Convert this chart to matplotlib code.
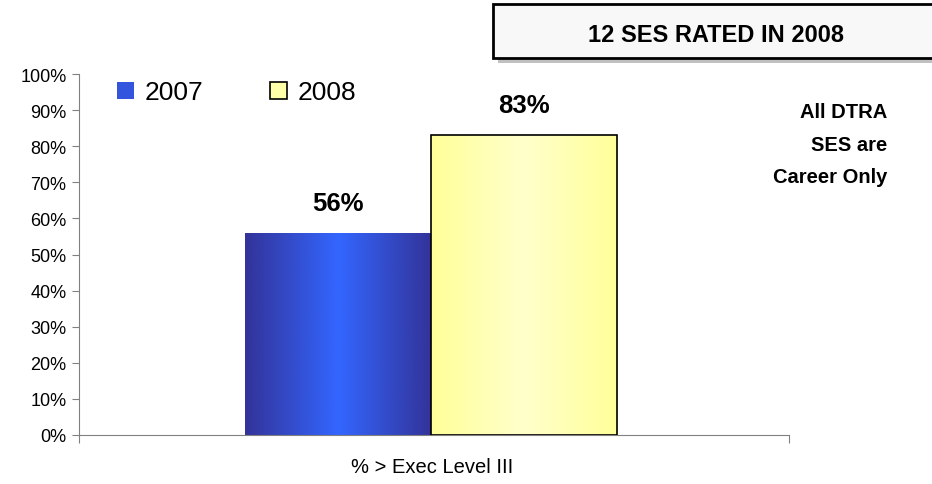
import matplotlib
matplotlib.use("Agg")
import matplotlib.pyplot as plt
import numpy as np
from matplotlib.colors import LinearSegmentedColormap
from matplotlib.patches import Rectangle

plt.rcParams['font.family'] = ['Liberation Sans', 'DejaVu Sans']

categories = ["% > Exec Level III"]
years = ["2007", "2008"]
values = [56, 83]
value_labels = ["56%", "83%"]
yticks = [0, 10, 20, 30, 40, 50, 60, 70, 80, 90, 100]
title_text = "12 SES RATED IN 2008"
note_lines = ["All DTRA", "SES are", "Career Only"]

W, H = 932, 485
fig = plt.figure(figsize=(W/100, H/100), dpi=100)
ax = fig.add_axes([79/W, 1-436/H, (789-79)/W, (436-75)/H])

width = 0.262
offsets = [-width/2, width/2]
cmaps = [
    LinearSegmentedColormap.from_list("b", ["#333399", "#3366FF", "#333399"]),
    LinearSegmentedColormap.from_list("y", ["#FFFF99", "#FFFFCC", "#FFFF99"]),
]
edgecolors = ["none", "black"]
grad = np.linspace(0, 1, 256).reshape(1, -1)

for i, (yr, v) in enumerate(zip(years, values)):
    x = 0 + offsets[i]
    bars = ax.bar(x, v, width=width, color="none", edgecolor=edgecolors[i],
                  linewidth=1.2, zorder=3)
    b = bars[0]
    im = ax.imshow(grad, cmap=cmaps[i], aspect="auto",
                   extent=(x - width/2, x + width/2, 0, v), zorder=2)
    im.set_clip_path(b)
    ax.text(x, v + 5, value_labels[i], ha="center", va="bottom",
            fontsize=18.5, fontweight="bold")

ax.set_xlim(-0.4958, 0.5042)
ax.set_ylim(0, 100)
ax.set_yticks(yticks)
ax.set_yticklabels([f"{t}%" for t in yticks], fontsize=13)
ax.set_xticks([-0.4958, 0.5042])
ax.set_xticklabels([])
ax.tick_params(axis='y', length=5, color="#808080", pad=4)
ax.tick_params(axis='x', length=6, color="#808080")
for s in ["top", "right"]:
    ax.spines[s].set_visible(False)
for s in ["left", "bottom"]:
    ax.spines[s].set_color("#808080")
fig.text(432/W, 1-468/H, categories[0], ha="center", va="center", fontsize=14.5)

# legend
lx = [117/W, 270/W]
ly = 1 - 100/H
cols = ["#3355DD", "#FFFFAA"]
for i, yr in enumerate(years):
    fig.patches.append(Rectangle((lx[i], ly), 17/W, 17/H, transform=fig.transFigure,
                                 facecolor=cols[i], edgecolor="black" if i else "none",
                                 linewidth=1.2))
    fig.text(lx[i] + 28/W, ly + 7/H, yr, fontsize=19, va="center", ha="left")

# title box with shadow
fig.patches.append(Rectangle((498/W, 1-64/H), 440/W, 54/H, transform=fig.transFigure,
                             facecolor="#C0C0C0", edgecolor="none"))
fig.patches.append(Rectangle((493/W, 1-59/H), 445/W, 54/H, transform=fig.transFigure,
                             facecolor="#F8F8F8", edgecolor="black", linewidth=2))
fig.text(716/W, 1-35/H, title_text, ha="center", va="center", fontsize=17,
         fontweight="bold")

for y, line in zip([118, 151, 183], note_lines):
    fig.text(887/W, 1-y/H, line, ha="right", va="baseline", fontsize=14.5,
             fontweight="bold")

fig.savefig("out.png", dpi=100)
